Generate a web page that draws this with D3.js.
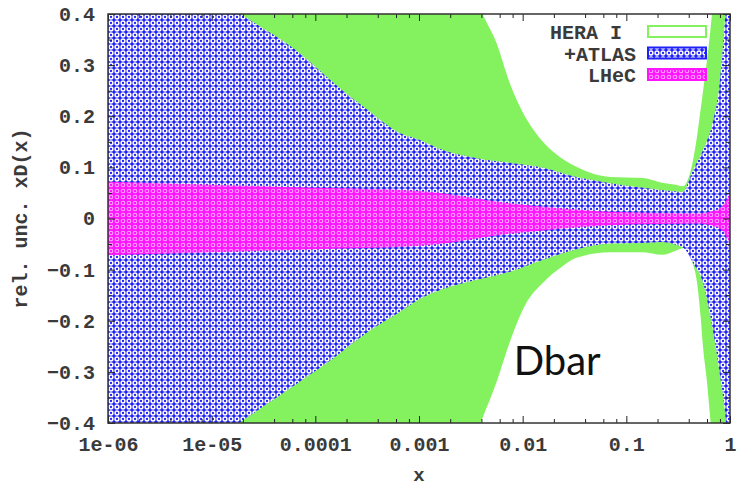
<!DOCTYPE html>
<html>
<head>
<meta charset="utf-8">
<script src="https://cdn.jsdelivr.net/npm/d3@7"></script>
<style>
  body { margin: 0; background: #fff; }
  svg { display: block; }
  .tick text { font-family: "Liberation Mono", monospace; font-weight: bold; font-size: 20px; fill: #3a3a3a; }
</style>
</head>
<body>
<svg id="chart"></svg>
<script>
// HERA I band (green)
const heraX = [1e-6, 7e-5, 1e-3, 3.1e-3, 4.1e-3, 5.6e-3, 7.5e-3, 1.1e-2, 1.6e-2, 2.3e-2, 3.3e-2, 7e-2, 0.145, 0.22, 0.3, 0.35, 0.44, 0.48, 0.52, 0.55, 0.6, 0.64, 0.67, 0.8, 1];
const heraUp = [1.2, 0.9, 0.6, 0.46, 0.4, 0.343, 0.265, 0.193, 0.148, 0.12, 0.101, 0.081, 0.079, 0.07, 0.066, 0.063, 0.114, 0.16, 0.212, 0.25, 0.31, 0.36, 0.4, 0.6, 0.8];
const heraLo = [-1.2, -0.9, -0.6, -0.45, -0.39, -0.32, -0.242, -0.163, -0.124, -0.097, -0.077, -0.066, -0.066, -0.071, -0.063, -0.058, -0.09, -0.124, -0.19, -0.253, -0.32, -0.384, -0.43, -0.6, -0.8];

// +ATLAS band (blue)
const atlasX = [1e-6, 1.9e-5, 7e-5, 1.5e-4, 3.2e-4, 6.5e-4, 1e-3, 1.7e-3, 3.6e-3, 7.5e-3, 1.6e-2, 3.3e-2, 7e-2, 0.145, 0.21, 0.35, 0.44, 0.55, 0.67, 0.8, 0.9, 1];
const atlasUp = [0.58, 0.4, 0.324, 0.265, 0.212, 0.167, 0.154, 0.134, 0.118, 0.109, 0.099, 0.081, 0.069, 0.06, 0.056, 0.052, 0.095, 0.134, 0.183, 0.271, 0.4, 0.56];
const atlasLo = [-0.58, -0.398, -0.32, -0.273, -0.222, -0.183, -0.158, -0.138, -0.12, -0.104, -0.08, -0.06, -0.049, -0.048, -0.046, -0.056, -0.087, -0.126, -0.208, -0.306, -0.384, -0.5];

// LHeC band (magenta)
const lhecX = [1e-6, 1e-5, 1e-4, 1e-3, 7.5e-3, 2.3e-2, 7e-2, 0.2, 0.5, 0.7, 0.85, 1];
const lhecUp = [0.072, 0.066, 0.06, 0.054, 0.03, 0.02, 0.013, 0.011, 0.01, 0.015, 0.025, 0.05];
const lhecLo = [-0.072, -0.066, -0.06, -0.054, -0.03, -0.02, -0.013, -0.011, -0.01, -0.015, -0.025, -0.05];

const xMajor = [1e-6, 1e-5, 1e-4, 1e-3, 1e-2, 1e-1, 1];
const xLabels = ["1e-06", "1e-05", "0.0001", "0.001", "0.01", "0.1", "1"];
const yMajor = [-0.4, -0.3, -0.2, -0.1, 0, 0.1, 0.2, 0.3, 0.4];
const legendNames = ["HERA I", "+ATLAS", "LHeC"];

const W = 739, H = 488;
const margin = { top: 14, right: 9, bottom: 65, left: 108 },
  width = W - margin.left - margin.right,
  height = H - margin.top - margin.bottom;

const root = d3.select("#chart").attr("width", W).attr("height", H);
const defs = root.append("defs");

const pa = defs.append("pattern").attr("id", "atlasPat")
  .attr("patternUnits", "userSpaceOnUse").attr("width", 6).attr("height", 6);
pa.append("rect").attr("width", 6).attr("height", 6).attr("fill", "#2020f8");
pa.append("circle").attr("cx", 3).attr("cy", 3).attr("r", 1.9)
  .attr("fill", "none").attr("stroke", "#fff").attr("stroke-width", 1.5);

const pm = defs.append("pattern").attr("id", "lhecPat")
  .attr("patternUnits", "userSpaceOnUse").attr("width", 6).attr("height", 6);
pm.append("rect").attr("width", 6).attr("height", 6).attr("fill", "#ff14ff");
pm.append("circle").attr("cx", 3).attr("cy", 3).attr("r", 1.8)
  .attr("fill", "none").attr("stroke", "#ffa4ff").attr("stroke-width", 1.1);

defs.append("clipPath").attr("id", "clip")
  .append("rect").attr("width", width).attr("height", height);

const svg = root.append("g").attr("transform", `translate(${margin.left},${margin.top})`);

const x = d3.scaleLog().domain([1e-6, 1]).range([0, width]);
const y = d3.scaleLinear().domain([-0.4, 0.4]).range([height, 0]);

function band(xs, up, lo) {
  return d3.area()
    .x((d, i) => x(xs[i]))
    .y0((d, i) => y(lo[i]))
    .y1((d, i) => y(up[i]))
    .curve(d3.curveMonotoneX)(xs);
}

const plot = svg.append("g").attr("clip-path", "url(#clip)");
plot.append("path").attr("d", band(heraX, heraUp, heraLo)).attr("fill", "#84f25e");
plot.append("path").attr("d", band(atlasX, atlasUp, atlasLo)).attr("fill", "url(#atlasPat)");
plot.append("path").attr("d", band(lhecX, lhecUp, lhecLo)).attr("fill", "url(#lhecPat)");

// minor ticks
const xMinor = [];
xMajor.slice(0, -1).forEach((m) => [2, 4, 6, 8].forEach((k) => xMinor.push(m * k)));
const yMinor = d3.range(-0.35, 0.4, 0.1);

function axes(gen, scale, values, size, fmt) {
  return gen(scale).tickValues(values).tickSizeInner(size).tickSizeOuter(0).tickPadding(14).tickFormat(fmt);
}

svg.append("g").attr("transform", `translate(0,${height})`)
  .call(axes(d3.axisBottom, x, xMajor, -7, (d, i) => xLabels[i]));
svg.append("g").attr("transform", `translate(0,${height})`)
  .call(axes(d3.axisBottom, x, xMinor, -4, () => ""));
svg.append("g").call(axes(d3.axisTop, x, xMajor, -7, () => ""));
svg.append("g").call(axes(d3.axisTop, x, xMinor, -4, () => ""));

svg.append("g").call(axes(d3.axisLeft, y, yMajor, -7, (d) => d3.format("")(+d.toFixed(1))).tickPadding(13));
svg.append("g").call(axes(d3.axisLeft, y, yMinor, -4, () => ""));
svg.append("g").attr("transform", `translate(${width},0)`).call(axes(d3.axisRight, y, yMajor, -7, () => ""));
svg.append("g").attr("transform", `translate(${width},0)`).call(axes(d3.axisRight, y, yMinor, -4, () => ""));

svg.selectAll(".domain").remove();
svg.selectAll(".tick line").attr("stroke", "#222");

svg.append("rect").attr("width", width).attr("height", height)
  .attr("fill", "none").attr("stroke", "#333").attr("stroke-width", 1.5);

// axis titles
svg.append("text")
  .attr("x", x(1e-3)).attr("y", height + 58)
  .attr("text-anchor", "middle")
  .attr("font-family", "Liberation Mono, monospace").attr("font-weight", "bold")
  .attr("font-size", "19px").attr("fill", "#3a3a3a")
  .text("x");

svg.append("text")
  .attr("transform", `translate(${-88},${height / 2}) rotate(-90)`)
  .attr("text-anchor", "middle").attr("dy", "0.35em")
  .attr("font-family", "Liberation Mono, monospace").attr("font-weight", "bold")
  .attr("font-size", "20px").attr("fill", "#3a3a3a")
  .text("rel. unc. xD(x)");

// legend
const legend = svg.append("g").attr("transform", `translate(${width - 82},0)`);
const fills = ["#fff", "url(#atlasPat)", "url(#lhecPat)"];
const strokes = ["#84f25e", "#2020f8", "#ff14ff"];
legendNames.forEach((g, i) => {
  legend.append("rect")
    .attr("x", 0).attr("y", 12 + i * 21.5)
    .attr("width", 58).attr("height", 11)
    .attr("fill", fills[i]).attr("stroke", strokes[i]).attr("stroke-width", 2);
  legend.append("text")
    .attr("x", i === 0 ? -26 : -12).attr("y", 18 + i * 21.5).attr("dy", "0.35em")
    .attr("text-anchor", "end")
    .attr("font-family", "Liberation Mono, monospace").attr("font-weight", "bold")
    .attr("font-size", "20px").attr("fill", "#3a3a3a")
    .text(g);
});

// panel label
svg.append("text")
  .attr("x", x(0.0075) + 4).attr("y", 361)
  .attr("font-family", "Lato, sans-serif").attr("font-size", "40px").attr("fill", "#111")
  .text("Dbar");
</script>
</body>
</html>
